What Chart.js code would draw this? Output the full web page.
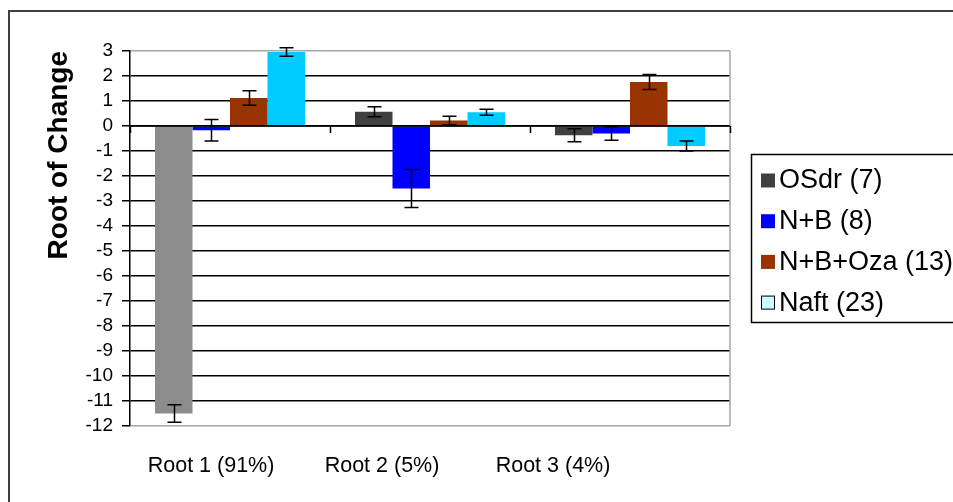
<!DOCTYPE html>
<html>
<head>
<meta charset="utf-8">
<script src="https://cdn.jsdelivr.net/npm/chart.js@4/dist/chart.umd.min.js"></script>
<style>
    html, body { margin: 0; padding: 0; background: #fff; }
    #wrap { width: 953px; height: 502px; position: relative; }
</style>
</head>
<body>
<div id="wrap"><canvas id="chart" width="953" height="502"></canvas></div>
<script>
// ── Data ─────────────────────────────────────────────────────────────────────

const categories = ['Root 1 (91%)', 'Root 2 (5%)', 'Root 3 (4%)'];
const seriesNames = ['OSdr (7)', 'N+B (8)', 'N+B+Oza (13)', 'Naft (23)'];

const osdrValues = [-11.5, 0.57, -0.37];
const osdrErrors = [0.35, 0.2, 0.26];
const nbValues = [-0.17, -2.5, -0.3];
const nbErrors = [0.43, 0.76, 0.27];
const ozaValues = [1.12, 0.22, 1.76];
const ozaErrors = [0.29, 0.17, 0.3];
const naftValues = [2.96, 0.55, -0.8];
const naftErrors = [0.17, 0.12, 0.2];

const yTickMin = -12;
const yTickMax = 3;

// ── Styling ──────────────────────────────────────────────────────────────────

const FONT = '"Liberation Sans", Arial, sans-serif';
const LEGEND_FILL = ['#404040', '#0000ff', '#993300', '#ccffff'];
const LABEL_MIN = -0.474;
const LABEL_MAX = 3.035;

const frame = {
    id: 'frame',
    beforeDraw(chart) {
        const { ctx } = chart;
        ctx.save();
        ctx.fillStyle = '#fff';
        ctx.fillRect(0, 0, chart.width, chart.height);
        ctx.restore();
    },
    beforeDatasetsDraw(chart) {
        const { ctx, chartArea: a } = chart;
        ctx.save();
        // grey plot border on the right
        ctx.strokeStyle = '#a6a6a6';
        ctx.lineWidth = 1.5;
        ctx.beginPath();
        ctx.moveTo(a.right, a.top);
        ctx.lineTo(a.right, a.bottom);
        ctx.stroke();
        ctx.restore();
    },
    afterDatasetsDraw(chart) {
        const { ctx, chartArea: a, scales: { x, y } } = chart;
        ctx.save();
        // category axis sits on zero, ticks between groups
        const y0 = y.getPixelForValue(0);
        ctx.strokeStyle = '#000';
        ctx.lineWidth = 1.5;
        ctx.beginPath();
        ctx.moveTo(a.left, y0);
        ctx.lineTo(a.right, y0);
        const step = x.getPixelForValue(1) - x.getPixelForValue(0);
        for (let i = 0; i <= categories.length; i++) {
            const px = Math.round(x.getPixelForValue(0) - step / 2 + i * step) + 0.5;
            ctx.moveTo(px, y0);
            ctx.lineTo(px, y0 + 7);
        }
        ctx.stroke();

        // error bars
        const errs = [osdrErrors, nbErrors, ozaErrors, naftErrors];
        chart.data.datasets.forEach((ds, di) => {
            chart.getDatasetMeta(di).data.forEach((bar, i) => {
                const v = ds.data[i];
                const e = errs[di][i];
                const top = y.getPixelForValue(v + e);
                const bot = y.getPixelForValue(v - e);
                const cx = Math.round(bar.x) + 0.5;
                ctx.beginPath();
                ctx.moveTo(cx, top);
                ctx.lineTo(cx, bot);
                ctx.moveTo(cx - 7, top);
                ctx.lineTo(cx + 7, top);
                ctx.moveTo(cx - 7, bot);
                ctx.lineTo(cx + 7, bot);
                ctx.stroke();
            });
        });
        ctx.restore();
    },
    afterDraw(chart) {
        const { ctx } = chart;
        ctx.save();
        // outer chart border
        ctx.strokeStyle = '#404040';
        ctx.lineWidth = 2;
        ctx.strokeRect(9, 11, 1000, 600);

        // legend
        const lx = 751, ly = 154;
        ctx.strokeStyle = '#000';
        ctx.lineWidth = 1.5;
        ctx.strokeRect(lx + 0.5, ly + 0.5, 260, 168);
        ctx.font = '27px ' + FONT;
        ctx.textBaseline = 'middle';
        seriesNames.forEach((name, i) => {
            const cy = 180 + i * 40.7;
            ctx.fillStyle = LEGEND_FILL[i];
            ctx.fillRect(lx + 10, cy - 6.5, 14, 14);
            if (i === 3) {
                ctx.strokeStyle = '#000';
                ctx.lineWidth = 1;
                ctx.strokeRect(lx + 10.5, cy - 6, 13, 13);
            }
            ctx.fillStyle = '#000';
            ctx.fillText(name, lx + 28, cy + 1);
        });
        ctx.restore();
    },
};

// ── Chart ────────────────────────────────────────────────────────────────────

new Chart(document.getElementById('chart'), {
    type: 'bar',
    data: {
        labels: categories,
        datasets: [
            { label: seriesNames[0], data: osdrValues, backgroundColor: ['#8c8c8c', '#404040', '#404040'] },
            { label: seriesNames[1], data: nbValues, backgroundColor: '#0000ff' },
            { label: seriesNames[2], data: ozaValues, backgroundColor: '#993300' },
            { label: seriesNames[3], data: naftValues, backgroundColor: '#00ccff' },
        ],
    },
    options: {
        responsive: false,
        animation: false,
        layout: { padding: { left: 8, top: 51, right: 223, bottom: 0 } },
        datasets: { bar: { categoryPercentage: 0.75, barPercentage: 1, borderWidth: 0 } },
        plugins: {
            legend: { display: false },
            tooltip: { enabled: false },
        },
        scales: {
            x: { display: false },
            // label row: in the original the category names sit left of the bar groups
            xLabels: {
                type: 'linear',
                position: 'bottom',
                offset: false,
                bounds: 'data',
                min: LABEL_MIN,
                max: LABEL_MAX,
                afterBuildTicks(scale) {
                    scale.ticks = categories.map((_, i) => ({ value: i }));
                },
                grid: { display: false, drawTicks: false, offset: false },
                border: { display: false },
                ticks: {
                    autoSkip: false,
                    color: '#000',
                    padding: 27,
                    font: { family: FONT, size: 21.5 },
                    callback: v => categories[v],
                },
                afterFit(scale) { scale.height = 76; },
            },
            y: {
                min: yTickMin,
                max: yTickMax,
                afterFit(scale) { scale.width = 122; },
                ticks: { stepSize: 1, autoSkip: false, color: '#000', padding: 9, font: { family: FONT, size: 19 } },
                grid: {
                    color: ctx => (ctx.tick && (ctx.tick.value === yTickMax || ctx.tick.value === yTickMin)) ? '#a6a6a6' : '#000',
                    lineWidth: 1.5,
                    tickColor: '#000',
                    tickLength: 8,
                },
                border: { color: '#000', width: 1.5 },
                title: {
                    display: true,
                    text: 'Root of Change',
                    align: 'end',
                    color: '#000',
                    padding: { top: 34, bottom: 0 },
                    font: { family: FONT, size: 28, weight: 'bold' },
                },
            },
        },
    },
    plugins: [frame],
});
</script>
</body>
</html>
